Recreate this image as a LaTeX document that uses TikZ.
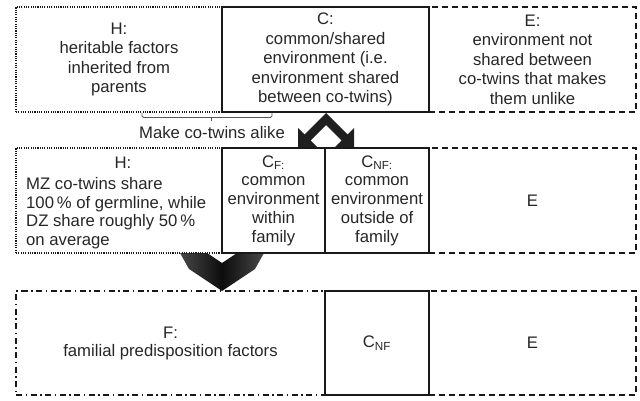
\documentclass[tikz,border=0pt]{standalone}
\usepackage{fontspec}
\setmainfont{Liberation Sans}
\begin{document}
\begin{tikzpicture}[x=1pt,y=-1pt,
  box/.style={inner sep=0pt, outer sep=0pt, anchor=north west, line width=1.2pt, draw=black!90},
  dotbox/.style={box, line width=1.3pt, dash pattern=on 1.1pt off 1.2pt},
  dashbox/.style={box, dash pattern=on 6pt off 4pt},
  dashdotbox/.style={box, dash pattern=on 6pt off 3.5pt on 1.5pt off 3.5pt},
  solidbox/.style={box, line width=1.5pt},
  txt/.style={align=center, text=black!85, inner sep=0pt, font=\fontsize{16.7}{19.5}\selectfont},
  txtm/.style={txt, font=\fontsize{16.7}{18.75}\selectfont},
  txtl/.style={txtm, align=left},
  bracket/.style={draw=black!65, line width=0.8pt, rounded corners=1.5pt},
  blockarrow/.style={fill=black!88, draw=none},
]
\useasboundingbox (0,0) rectangle (640,401);

% block arrows (drawn under the box borders)
\path[blockarrow] (326,113) -- (304.5,134.5) -- (298,128) -- (298,147) -- (317,147) -- (310.5,140.5)
  -- (326,125) -- (341.5,140.5) -- (335,147) -- (354,147) -- (354,128) -- (347.5,134.5) -- cycle;
\shade[left color=black!72, right color=black!72, middle color=black!95]
  (180,253) -- (207,253) -- (222,263) -- (237,253) -- (264,253) -- (255,269) -- (222,291) -- (189,269) -- cycle;

% top row
\node[dotbox, minimum width=206pt, minimum height=105pt] (H1) at (16,7) {};
\node[dashbox, minimum width=207pt, minimum height=105pt] (E1) at (429,7) {};
\node[solidbox, minimum width=207pt, minimum height=105pt] (C1) at (222,7) {};
\node[txt] (H1t) at (H1.center) {H:\\heritable factors\\inherited from\\parents};
\node[txt] (C1t) at (C1.center) {C:\\common/shared\\environment (i.e.\\environment shared\\between co-twins)};
\node[txt] (E1t) at (E1.center) {E:\\environment not\\shared between\\co-twins that makes\\them unlike};

% bracket
\draw[bracket] (142,113) -- (142,117.5) -- (272,117.5) -- (272,113);
\draw[bracket] (211,117.5) -- (211,121.5);
\node[txt] (MK) at (212,133) {Make co-twins alike};

% middle row
\node[dotbox, minimum width=206pt, minimum height=105pt] (H2) at (16,148) {};
\node[dashbox, minimum width=207pt, minimum height=105pt] (E2) at (429,148) {};
\node[solidbox, minimum width=103pt, minimum height=105pt] (CF2) at (222,148) {};
\node[solidbox, minimum width=104pt, minimum height=105pt] (CNF2) at (325,148) {};
\node[txt] (H2h) at (123,163) {H:};
\node[txtl, anchor=north west] (H2t) at (26,177) {MZ co-twins share\\100\,\% of germline, while\\DZ share roughly 50\,\%\\on average};
\node[txtm] (CF2t) at (CF2.center) {C\textsubscript{F:}\\common\\environment\\within\\family};
\node[txtm] (CNF2t) at (CNF2.center) {C\textsubscript{NF:}\\common\\environment\\outside of\\family};
\node[txt] (E2t) at (E2.center) {E};

% bottom row
\node[dashdotbox, minimum width=309pt, minimum height=104pt] (F3) at (16,291) {};
\node[dashbox, minimum width=207pt, minimum height=104pt] (E3) at (429,291) {};
\node[solidbox, minimum width=104pt, minimum height=104pt] (CNF3) at (325,291) {};
\node[txt, font=\fontsize{16.7}{18}\selectfont] (F3t) at (F3.center) {F:\\familial predisposition factors};
\node[txt] (CNF3t) at (CNF3.center) {C\textsubscript{NF}};
\node[txt] (E3t) at (E3.center) {E};
\end{tikzpicture}
\end{document}
